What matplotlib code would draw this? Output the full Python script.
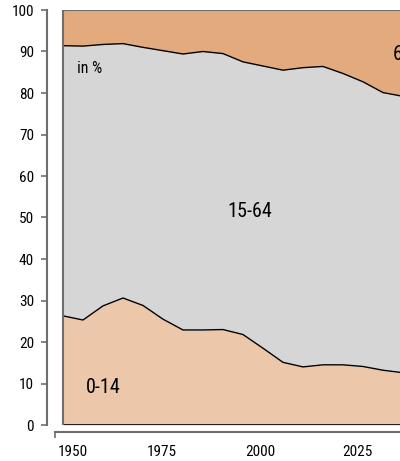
import matplotlib
matplotlib.use("Agg")
import matplotlib.pyplot as plt
import numpy as np

plt.rcParams['font.family'] = ['Roboto Condensed', 'Liberation Sans Narrow', 'Roboto', 'DejaVu Sans']

years = [1950, 1955, 1960, 1965, 1970, 1975, 1980, 1985, 1990, 1995,
         2000, 2005, 2010, 2015, 2020, 2025, 2030, 2035]
age_0_14 = [26.3, 25.3, 28.7, 30.6, 28.8, 25.5, 22.9, 22.9, 23.0, 21.8,
            18.5, 15.1, 14.0, 14.5, 14.5, 14.1, 13.2, 12.6]
age_15_64 = [65.1, 66.0, 63.0, 61.3, 62.2, 64.7, 66.5, 67.1, 66.5, 65.7,
             68.0, 70.4, 72.1, 71.9, 70.2, 68.6, 66.9, 66.6]
age_65 = [8.6, 8.7, 8.3, 8.1, 9.0, 9.8, 10.6, 10.0, 10.5, 12.5,
          13.5, 14.5, 13.9, 13.6, 15.3, 17.3, 19.9, 20.8]
series_labels = ['0-14', '15-64', '65+']
tick_labels = ['1950', '1975', '2000', '2025']

c_young = '#ECC7A9'
c_work = '#D6D6D6'
c_old = '#E3AA7E'
frame = '#6E6E6E'

PT = 0.72  # points per pixel at 100 dpi

fig = plt.figure(figsize=(4.0, 4.61), dpi=100)
ax = fig.add_axes([55/400, 36/461, 1 - 55/400, 415/461])

x = np.array(years, dtype=float)
y1 = np.array(age_0_14)
y2 = y1 + np.array(age_15_64)
y3 = y2 + np.array(age_65)

ax.fill_between(x, 0, y1, color=c_young, lw=0)
ax.fill_between(x, y1, y2, color=c_work, lw=0)
ax.fill_between(x, y2, y3, color=c_old, lw=0)
ax.plot(x, y1, color='black', lw=1)
ax.plot(x, y2, color='black', lw=1)
ax.hlines(0, years[0], years[-1], color='black', lw=1.2)
ax.hlines(100, years[0], years[-1], color=frame, lw=1.5)
ax.vlines(years[0], 0, 100, color=frame, lw=1.5)

ax.set_xticks([1952.5, 1974.8, 1999.3, 2023.5], labels=tick_labels)
ax.set_xticks([1948], minor=True)
ax.set_xlim(1948, 1948 + (400 - 55) / 4)
ax.set_ylim(0, 100)

for s in ['top', 'right']:
    ax.spines[s].set_visible(False)
ax.spines['left'].set_position(('outward', 8 * PT))
ax.spines['left'].set_color(frame)
ax.spines['left'].set_linewidth(1.5)
ax.spines['bottom'].set_position(('outward', 7 * PT))
ax.spines['bottom'].set_color(frame)
ax.spines['bottom'].set_linewidth(1.5)

ax.set_yticks(range(0, 101, 10))
ax.tick_params(axis='y', length=6 * PT, width=1.2, color=frame, labelsize=11,
               pad=7 * PT)

ax.tick_params(axis='x', which='major', length=0, labelsize=11, pad=9)
ax.tick_params(axis='x', which='minor', length=6 * PT, width=1.2, color=frame)

ax.text(1953.5, 86, 'in %', fontsize=11.5, ha='left', va='center')
ax.text(1960, 9.0, series_labels[0], fontsize=14.5, ha='center', va='center')
ax.text(1996.8, 51.5, series_labels[1], fontsize=14.5, ha='center', va='center')
ax.text(2032.5, 89.2, series_labels[2], fontsize=14.5, ha='left', va='center',
        clip_on=False)

fig.savefig('out.png', dpi=100)
